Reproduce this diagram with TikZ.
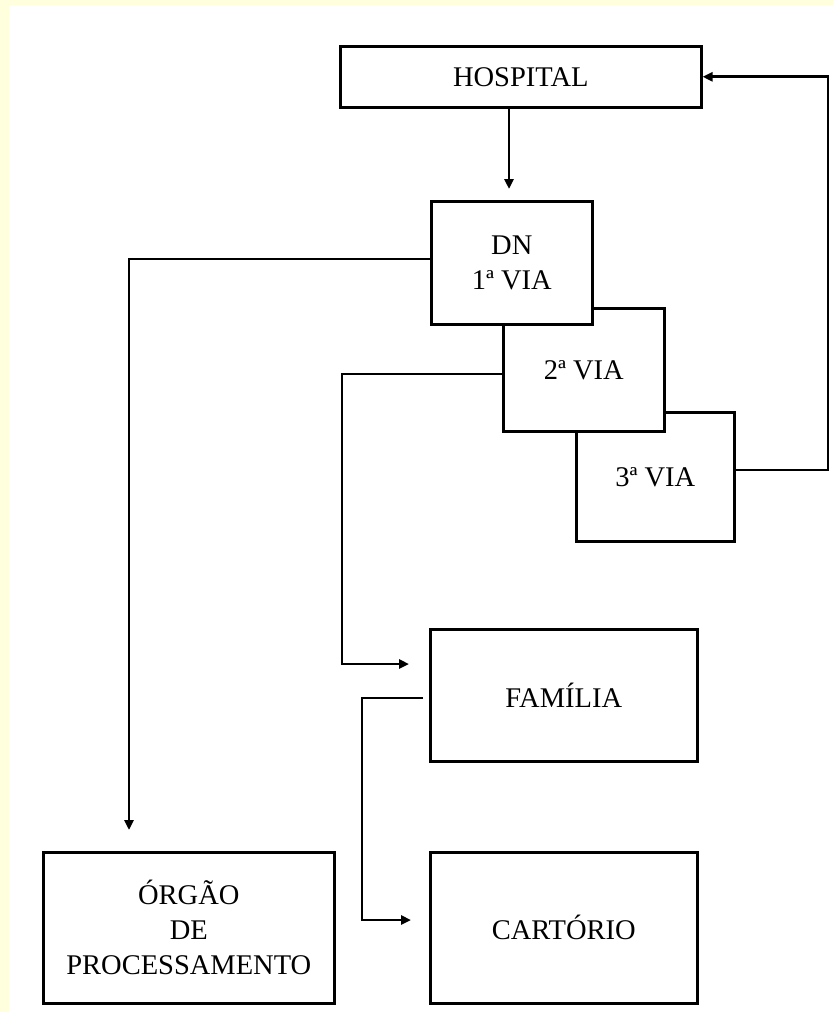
\documentclass[tikz,border=0pt]{standalone}
\usepackage{fontspec}
\setmainfont{Liberation Serif}
\usetikzlibrary{arrows.meta}
\definecolor{cream}{RGB}{255,255,221}
\begin{document}
\begin{tikzpicture}[x=1pt,y=-1pt,
  box/.style={draw=black, line width=2.6pt, fill=white, inner sep=0pt, anchor=north west, font=\fontsize{28.5}{35}\selectfont, align=center},
  conn/.style={line width=2.8pt, -{Triangle[length=10pt,width=9pt]}}]
\fill[cream] (0,0) rectangle (833,1012);
\fill[white] (9,5) rectangle (833,1012);
\useasboundingbox (0,0) rectangle (833,1012);
% boxes (back to front)
\node[box, minimum width=158pt, minimum height=129pt] (v3) at (575,411) {3ª VIA};
\node[box, minimum width=161pt, minimum height=123pt] (v2) at (502,307) {2ª VIA};
\node[box, minimum width=161pt, minimum height=123pt] (dn) at (430,200) {DN\\1ª VIA};
\node[box, minimum width=361pt, minimum height=61pt] (hosp) at (339,45) {HOSPITAL};
\node[box, minimum width=267pt, minimum height=132pt] (fam) at (429,628) {FAMÍLIA};
\node[box, minimum width=267pt, minimum height=151pt] (cart) at (429,851) {CARTÓRIO};
\node[box, minimum width=291pt, minimum height=151pt] (org) at (42,851) {ÓRGÃO\\DE\\PROCESSAMENTO};
% connectors
\coordinate (c1) at (828,0);
\coordinate (c2) at (129,0);
\coordinate (c3) at (342,0);
\coordinate (c4) at (362,0);
\draw[conn, shorten >=11pt] (hosp.south -| 509,0) -- (dn.north -| 509,0);
\draw[conn] (v3.east |- 0,470) -- (c1 |- 0,470) -- (c1 |- hosp.east) -- (hosp.east);
\draw[conn, shorten >=21pt] (dn.west |- 0,259) -- (c2 |- 0,259) -- (c2 |- org.north);
\draw[conn, shorten >=20pt] (v2.west |- 0,374) -- (c3 |- 0,374) -- (c3 |- 0,664) -- (fam.west |- 0,664);
\draw[conn, shorten <=6pt, shorten >=18pt] (fam.west |- 0,698) -- (c4 |- 0,698) -- (c4 |- 0,920) -- (cart.west |- 0,920);
\end{tikzpicture}
\end{document}
